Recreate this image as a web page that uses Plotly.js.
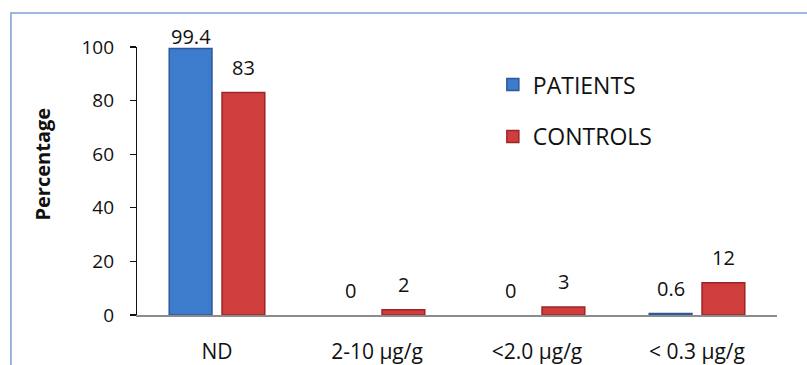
<!DOCTYPE html>
<html>
<head>
<meta charset="utf-8">
<script src="https://cdn.plot.ly/plotly-3.0.1.min.js"></script>
<style>
  html, body { margin: 0; padding: 0; background: #ffffff; }
  #chart { width: 807px; height: 365px; }
</style>
</head>
<body>
<div id="chart"></div>
<script>
// Share of samples in each concentration band
const categories = ['ND', '2-10 µg/g', '<2.0 µg/g', '< 0.3 µg/g'];
const patients = [99.4, 0, 0, 0.6];
const controls = [83, 2, 3, 12];
const seriesNames = ['PATIENTS', 'CONTROLS'];
const yTicks = [0, 20, 40, 60, 80, 100];

const FONT = '"Open Sans", "Liberation Sans", sans-serif';
const blue = '#3d7bcc', blueEdge = '#2a5a98';
const red = '#cf3d3d', redEdge = '#9c2627';

const bargap = 0.34;
const half = (1 - bargap) / 4;   // centre offset of each bar inside its group (category units)

// empty bars get no outline so nothing is drawn for them
function edgeWidths(vals) { return vals.map(function (v) { return v > 0 ? 1.5 : 0; }); }

const traces = [
  {
    type: 'bar', name: seriesNames[0], x: categories, y: patients,
    marker: { color: blue, line: { color: blueEdge, width: edgeWidths(patients) } },
    legendgroup: 'a', hoverinfo: 'x+y'
  },
  {
    type: 'bar', name: seriesNames[1], x: categories, y: controls,
    marker: { color: red, line: { color: redEdge, width: edgeWidths(controls) } },
    legendgroup: 'b', hoverinfo: 'x+y'
  }
];

// value labels above each bar
const annotations = [];
[patients, controls].forEach(function (vals, s) {
  vals.forEach(function (v, i) {
    annotations.push({
      x: i + (s === 0 ? -half : half), y: v, xref: 'x', yref: 'y',
      text: String(v), showarrow: false, yanchor: 'middle',
      yshift: v > 95 ? 12 : 25,
      font: { family: FONT, size: 20, color: '#111' }
    });
  });
});
// vertical axis title
annotations.push({
  xref: 'paper', yref: 'paper', x: -0.147, y: 0.565,
  xanchor: 'center', yanchor: 'middle',
  text: '<b>Percentage</b>', textangle: -90, showarrow: false,
  font: { family: FONT, size: 20, color: '#111' }
});

const layout = {
  width: 807, height: 365,
  margin: { l: 137, r: 30, t: 47, b: 50 },
  paper_bgcolor: '#ffffff', plot_bgcolor: '#ffffff',
  barmode: 'group', bargap: bargap, bargroupgap: 0.19,
  font: { family: FONT, size: 20, color: '#111' },
  showlegend: true,
  legend: {
    x: 0.556, y: 0.94, xanchor: 'left', yanchor: 'top',
    font: { family: FONT, size: 23, color: '#111' },
    tracegroupgap: 19, bgcolor: 'rgba(0,0,0,0)', itemclick: false
  },
  xaxis: {
    type: 'category', showline: true, linecolor: '#8c8c8c', linewidth: 1.5,
    ticks: '', showgrid: false, zeroline: false,
    tickfont: { family: FONT, size: 21, color: '#111' },
    ticklabelstandoff: 17, fixedrange: true
  },
  yaxis: {
    range: [0, 100], tickvals: yTicks, showline: true, linecolor: '#111', linewidth: 1.2,
    ticks: 'outside', ticklen: 6, tickcolor: '#111', tickwidth: 1.2,
    showgrid: false, zeroline: false,
    tickfont: { family: FONT, size: 19, color: '#111' },
    ticklabelstandoff: 12, fixedrange: true
  },
  annotations: annotations,
  shapes: [{
    type: 'rect', xref: 'paper', yref: 'paper', layer: 'below',
    x0: -0.197, x1: 1.1, y0: -0.25, y1: 1.127,
    line: { color: '#7aa2d6', width: 1.5 }, fillcolor: 'rgba(0,0,0,0)'
  }]
};

Plotly.newPlot('chart', traces, layout, { displayModeBar: false, staticPlot: true });
</script>
</body>
</html>
